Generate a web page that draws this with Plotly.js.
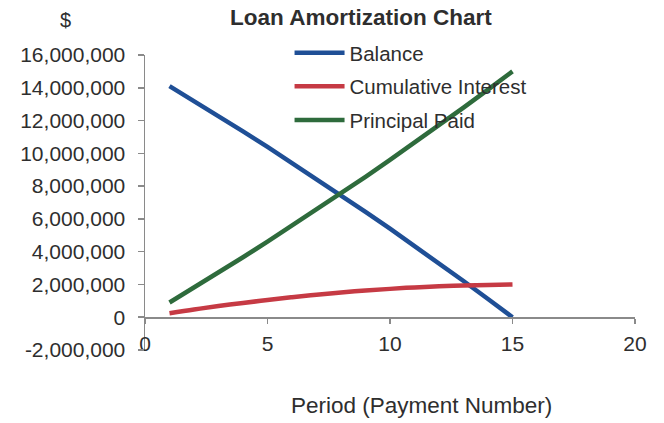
<!DOCTYPE html>
<html>
<head>
<meta charset="utf-8">
<script src="https://cdn.plot.ly/plotly-3.0.1.min.js"></script>
<style>html,body{margin:0;padding:0;background:#fff;}#chart{width:664px;height:423px;}</style>
</head>
<body>
<div id="chart"></div>
<script>
var periods = [1,2,3,4,5,6,7,8,9,10,11,12,13,14,15];
var balance = [14100000,13200000,12280000,11340000,10390000,9420000,8440000,7440000,6430000,5400000,4350000,3290000,2210000,1110000,0];
var cumulativeInterest = [240000,470000,680000,870000,1050000,1220000,1370000,1510000,1630000,1730000,1820000,1890000,1940000,1970000,2000000];
var principalPaid = [900000,1800000,2720000,3660000,4610000,5580000,6560000,7560000,8570000,9600000,10650000,11710000,12790000,13890000,15000000];
var yTickVals = [-2000000,0,2000000,4000000,6000000,8000000,10000000,12000000,14000000,16000000];
var yTickText = ["-2,000,000","0","2,000,000","4,000,000","6,000,000","8,000,000","10,000,000","12,000,000","14,000,000","16,000,000"];
var xTickVals = [0,5,10,15,20];

var txt = '#2e2e2e';
var fontFam = 'Liberation Sans, Arial, sans-serif';

var traces = [
  {x: periods, y: balance, name: 'Balance', mode: 'lines', legendgroup: 'a',
   line: {color: '#1f4f96', width: 4.5}},
  {x: periods, y: cumulativeInterest, name: 'Cumulative Interest', mode: 'lines', legendgroup: 'b',
   line: {color: '#c63a44', width: 4.5, shape: 'spline'}},
  {x: periods, y: principalPaid, name: 'Principal Paid', mode: 'lines', legendgroup: 'c',
   line: {color: '#2e6b3c', width: 4.5}}
];

var layout = {
  width: 664, height: 423,
  margin: {l: 145, r: 29, t: 55, b: 73},
  paper_bgcolor: '#ffffff', plot_bgcolor: '#ffffff',
  font: {family: fontFam, size: 21, color: txt},
  showlegend: true,
  legend: {x: 0.295, y: 1.075, xanchor: 'left', yanchor: 'top', bgcolor: 'rgba(0,0,0,0)',
           font: {size: 20.5, color: txt}, tracegroupgap: 4, itemwidth: 50},
  xaxis: {range: [0, 20], tickvals: xTickVals, showgrid: false, zeroline: false,
          showline: true, linecolor: '#8a8a8a', linewidth: 1.5,
          ticks: 'outside', ticklen: 5, tickcolor: '#8a8a8a', tickwidth: 1.5,
          anchor: 'free', position: 2/18, ticklabelstandoff: 2,
          tickfont: {size: 21, color: txt}},
  yaxis: {range: [-2000000, 16000000], tickvals: yTickVals, ticktext: yTickText,
          showgrid: false, zeroline: false, showline: true, linecolor: '#8a8a8a', linewidth: 1.5,
          ticks: 'outside', ticklen: 6, tickcolor: '#8a8a8a', tickwidth: 1.5,
          ticklabelstandoff: 8, tickfont: {size: 21, color: txt}},
  annotations: [
    {text: '<b>Loan Amortization Chart</b>', xref: 'paper', yref: 'paper', x: (361-145)/490, y: 1 + (55-18)/295,
     xanchor: 'center', yanchor: 'middle', showarrow: false, font: {size: 22.5, color: txt}},
    {text: '$', xref: 'paper', yref: 'paper', x: (65-145)/490, y: 1 + (55-20)/295,
     xanchor: 'center', yanchor: 'middle', showarrow: false, font: {size: 20, color: txt}},
    {text: 'Period (Payment Number)', xref: 'paper', yref: 'paper', x: (421-145)/490, y: -(405-350)/295,
     xanchor: 'center', yanchor: 'middle', showarrow: false, font: {size: 22.5, color: txt}}
  ]
};

Plotly.newPlot('chart', traces, layout, {displayModeBar: false, staticPlot: true});
</script>
</body>
</html>
